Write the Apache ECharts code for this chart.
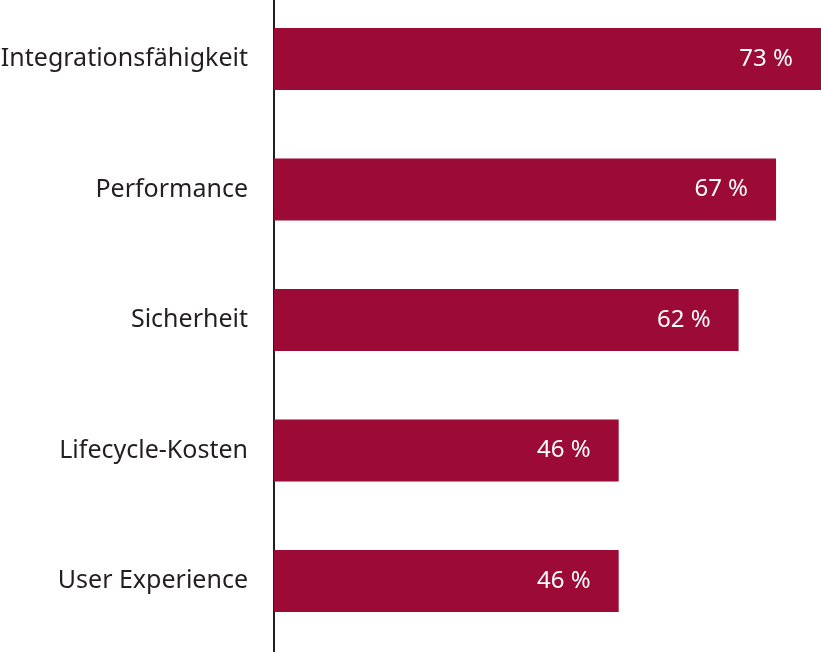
<!DOCTYPE html>
<html>
<head>
<meta charset="utf-8">
<script src="https://cdn.jsdelivr.net/npm/echarts@6/dist/echarts.min.js"></script>
<style>html,body{margin:0;padding:0;background:#fff}#c{width:821px;height:652px}</style>
</head>
<body>
<div id="c"></div>
<script>
const categories = ["Integrationsfähigkeit", "Performance", "Sicherheit", "Lifecycle-Kosten", "User Experience"];
const values = [73, 67, 62, 46, 46];

const chart = echarts.init(document.getElementById('c'), null, {renderer: 'canvas'});
chart.setOption({
  animation: false,
  backgroundColor: '#ffffff',
  grid: {left: 274, right: 0, top: -6.25, height: 652.5, containLabel: false, outerBoundsMode: 'none'},
  xAxis: {type: 'value', min: 0, max: 73, show: false},
  yAxis: {
    type: 'category', inverse: true, data: categories,
    axisLine: {show: true, lineStyle: {color: '#231f20', width: 2}},
    axisTick: {show: false},
    axisLabel: {color: '#231f20', fontSize: 25, fontFamily: 'Noto Sans', margin: 26}
  },
  graphic: [{type: 'line', shape: {x1: 274, y1: 640, x2: 274, y2: 652}, style: {stroke: '#231f20', lineWidth: 2}}],
  series: [{
    type: 'bar', data: values, barWidth: 62,
    itemStyle: {color: '#9b0b35'},
    label: {show: true, position: 'insideRight', distance: 28, color: '#ffffff', fontSize: 24, fontFamily: 'Noto Sans', formatter: p => p.value + ' %'}
  }]
});
</script>
</body>
</html>
